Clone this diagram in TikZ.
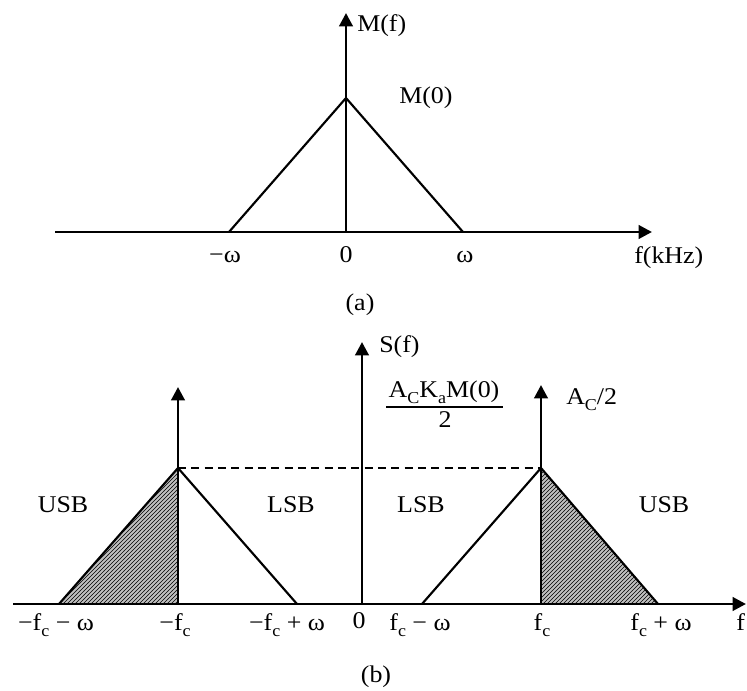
\documentclass[tikz,border=0pt]{standalone}
\usepackage{fontspec}
\setmainfont{Liberation Serif}[FakeStretch=1.08]
\usetikzlibrary{arrows.meta,patterns}
\newcommand\lsub[1]{\raisebox{-0.25em}{\fontsize{12.5}{12.5}\selectfont #1}}
\begin{document}
\begin{tikzpicture}[x=0.75pt,y=-0.75pt,
  axis/.style={line width=2.2pt,-{Triangle[length=10pt,width=10pt]}},
  edge/.style={line width=1.6pt},
  dashline/.style={line width=1.6pt,dash pattern=on 6pt off 4pt},
  lbl/.style={font=\fontsize{18}{21}\selectfont, inner sep=0pt},
  hatch/.style={fill=gray!50, postaction={pattern=north east lines, pattern color=black}}]
\useasboundingbox (0,0) rectangle (747,691);

% ---------- (a) ----------
\coordinate (aL) at (55,232);
\coordinate (aR) at (652,232);
\coordinate (ao) at (346,232);
\coordinate (at) at (346,13);
\coordinate (apk) at (346,98);
\coordinate (abl) at (229,232);
\coordinate (abr) at (463,232);
\draw[axis] (aL) -- (aR);
\draw[axis] (ao) -- (at);
\draw[edge] (abl) -- (apk) -- (abr);

\node[lbl,anchor=base west] (Mf) at (357,32) {M(f)};
\node[lbl,anchor=base west] (M0) at (399,104) {M(0)};
\node[lbl,anchor=base] (mw) at (225,263) {−ω};
\node[lbl,anchor=base] (z1) at (346,263) {0};
\node[lbl,anchor=base] (pw) at (465,263) {ω};
\node[lbl,anchor=base west] (fk) at (634,264) {f(kHz)};
\node[lbl,anchor=base] (capa) at (360,311) {(a)};

% ---------- (b) ----------
\coordinate (bL) at (13,604);
\coordinate (bR) at (746,604);
\coordinate (bo) at (362,604);
\coordinate (bt) at (362,342);
\coordinate (lc0) at (178,604);
\coordinate (lct) at (178,387);
\coordinate (lpk) at (178,468);
\coordinate (lbl1) at (59,604);
\coordinate (lbr) at (297,604);
\coordinate (rc0) at (541,604);
\coordinate (rct) at (541,385);
\coordinate (rpk) at (541,468);
\coordinate (rbl) at (422,604);
\coordinate (rbr) at (658,604);

\fill[hatch] (lbl1) -- (lpk) -- (lc0) -- cycle;
\fill[hatch] (rpk) -- (rbr) -- (rc0) -- cycle;

\draw[axis] (bL) -- (bR);
\draw[axis] (bo) -- (bt);
\draw[axis] (lc0) -- (lct);
\draw[axis] (rc0) -- (rct);
\draw[edge] (lbl1) -- (lpk) -- (lbr);
\draw[edge] (rbl) -- (rpk) -- (rbr);
\draw[dashline] (lpk) -- (rpk);

\node[lbl,anchor=base west] (Sf) at (379,353) {S(f)};
\node[lbl,anchor=base] (frac) at (444,398) {A\lsub{C}K\lsub{a}M(0)};
\draw[line width=1.3pt] (386,407) -- (503,407);
\node[lbl,anchor=base] (two) at (445,428) {2};
\node[lbl,anchor=base west] (Ac2) at (566,405) {A\lsub{C}/2};

\node[lbl,anchor=base] (usb1) at (63,513) {USB};
\node[lbl,anchor=base] (lsb1) at (291,513) {LSB};
\node[lbl,anchor=base] (lsb2) at (421,513) {LSB};
\node[lbl,anchor=base] (usb2) at (664,513) {USB};

\node[lbl,anchor=base] (t1) at (56,631) {−f\lsub{c} − ω};
\node[lbl,anchor=base] (t2) at (175,631) {−f\lsub{c}};
\node[lbl,anchor=base] (t3) at (287,631) {−f\lsub{c} + ω};
\node[lbl,anchor=base] (t4) at (359,629) {0};
\node[lbl,anchor=base] (t5) at (420,631) {f\lsub{c} − ω};
\node[lbl,anchor=base] (t6) at (542,631) {f\lsub{c}};
\node[lbl,anchor=base] (t7) at (661,631) {f\lsub{c} + ω};
\node[lbl,anchor=base west] (t8) at (736,631) {f};
\node[lbl,anchor=base] (capb) at (376,682) {(b)};
\end{tikzpicture}
\end{document}
